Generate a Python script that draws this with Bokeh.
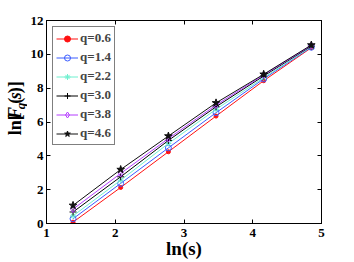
import math
from bokeh.plotting import figure
from bokeh.models import Range1d, LinearAxis, FixedTicker, Label, Legend, LegendItem
from bokeh.layouts import row
from bokeh.embed import file_html
from bokeh.resources import INLINE

# data
ln_s = [1.386, 2.079, 2.773, 3.466, 4.159, 4.852]
q_labels = ["q=0.6", "q=1.4", "q=2.2", "q=3.0", "q=3.8", "q=4.6"]
f_q06 = [0.08, 2.13, 4.24, 6.35, 8.44, 10.39]
f_q14 = [0.28, 2.37, 4.47, 6.55, 8.55, 10.42]
f_q22 = [0.45, 2.56, 4.73, 6.75, 8.62, 10.45]
f_q30 = [0.68, 2.76, 4.91, 6.90, 8.72, 10.49]
f_q38 = [0.85, 2.96, 5.02, 7.00, 8.78, 10.52]
f_q46 = [1.07, 3.19, 5.17, 7.13, 8.82, 10.55]
x_ticks = [1, 2, 3, 4, 5]
y_ticks = [0, 2, 4, 6, 8, 10, 12]
x_title = "ln(s)"

series = [f_q06, f_q14, f_q22, f_q30, f_q38, f_q46]
colors = ["#ff1010", "#3a5cff", "#6ff0cf", "#000000", "#b43cff", "#101010"]
markers = ["circle", "circle", "asterisk", "cross", "diamond", "star"]
sizes = [4, 6, 6, 7, 7, 8]
fills = [True, False, True, False, False, True]

FONT = "Liberation Serif"

YL_W = 27
W, H = 354, 262
MAIN_W = W - YL_W
FL, FR, FT, FB = 46, 321, 20, 223  # frame edges in page pixels

p = figure(width=MAIN_W, height=H, output_backend="svg", toolbar_location=None,
           title=None, x_range=Range1d(1, 5), y_range=Range1d(0, 12),
           min_border_left=FL - YL_W, min_border_right=W - FR,
           min_border_top=FT, min_border_bottom=H - FB)
p.xgrid.visible = False
p.ygrid.visible = False
p.outline_line_color = "black"
p.outline_line_width = 1
p.background_fill_color = "white"
p.border_fill_color = "white"

items = []
for ys, c, m, s, f, lab in zip(series, colors, markers, sizes, fills, q_labels):
    r1 = p.line(ln_s, ys, line_color=c, line_width=1)
    r2 = p.scatter(ln_s, ys, marker=m, size=s, line_color=c, line_width=1,
                   fill_color=c if f else None)
    items.append(LegendItem(label=lab, renderers=[r1, r2]))

legend = Legend(items=items, location="top_left", margin=6, padding=3, spacing=3,
                glyph_width=22, glyph_height=15, label_height=15, label_standoff=2,
                label_text_font=FONT, label_text_font_style="bold", label_text_font_size="13px",
                border_line_color="black", border_line_width=1, background_fill_alpha=1)
p.add_layout(legend)


def style_axis(ax, standoff):
    ax.major_tick_in = 4
    ax.major_tick_out = 0
    ax.minor_tick_line_color = None
    ax.axis_line_color = "black"
    ax.major_tick_line_color = "black"
    ax.major_label_text_font = FONT
    ax.major_label_text_font_style = "bold"
    ax.major_label_text_font_size = "13px"
    ax.major_label_text_color = "black"
    ax.major_label_standoff = standoff
    ax.axis_label_standoff = 0


p.xaxis.ticker = FixedTicker(ticks=x_ticks)
p.yaxis.ticker = FixedTicker(ticks=y_ticks)
style_axis(p.xaxis[0], 5)
style_axis(p.yaxis[0], 3)
xa = p.xaxis[0]
xa.axis_label = x_title
xa.axis_label_text_font = FONT
xa.axis_label_text_font_style = "bold"
xa.axis_label_text_font_size = "19px"
xa.axis_label_text_color = "black"
xa.axis_label_standoff = -2

top = LinearAxis(ticker=FixedTicker(ticks=x_ticks), major_label_overrides={t: "" for t in x_ticks})
right = LinearAxis(ticker=FixedTicker(ticks=y_ticks), major_label_overrides={t: "" for t in y_ticks})
style_axis(top, 0)
style_axis(right, 0)
p.add_layout(top, "above")
p.add_layout(right, "right")

# y axis label strip: ln[F_q(s)]
yl = figure(width=YL_W, height=H, output_backend="svg", toolbar_location=None, title=None,
            x_range=Range1d(0, YL_W), y_range=Range1d(0, H),
            x_axis_type=None, y_axis_type=None, min_border=0)
yl.xgrid.visible = False
yl.ygrid.visible = False
yl.outline_line_color = None
yl.background_fill_color = "white"
yl.border_fill_color = "white"


def lab(fig, text, x, y, size, style, angle=0.0):
    fig.add_layout(Label(x=x, y=y, text=text,
                         text_font=FONT, text_font_style=style, text_font_size=f"{size}px",
                         text_color="black", text_align="left", text_baseline="middle",
                         angle=angle))


A = math.pi / 2
S = 18
bx = 21 - 0.3375 * S          # glyph baseline at x = 21
qx = 24.5 - 0.3375 * 13       # subscript baseline at x = 24.5
y0 = H - 148
lab(yl, "ln[", bx, y0, S, "bold", A)
lab(yl, "F", bx, y0 + 21.0, S, "bold italic", A)
lab(yl, "q", qx, y0 + 33.5, 13, "bold italic", A)
lab(yl, "(", bx, y0 + 40.5, S, "bold", A)
lab(yl, "s", bx, y0 + 46.5, S, "bold italic", A)
lab(yl, ")]", bx, y0 + 54.0, S, "bold", A)

layout = row(yl, p)
open("out.html", "w").write(file_html(layout, INLINE))
